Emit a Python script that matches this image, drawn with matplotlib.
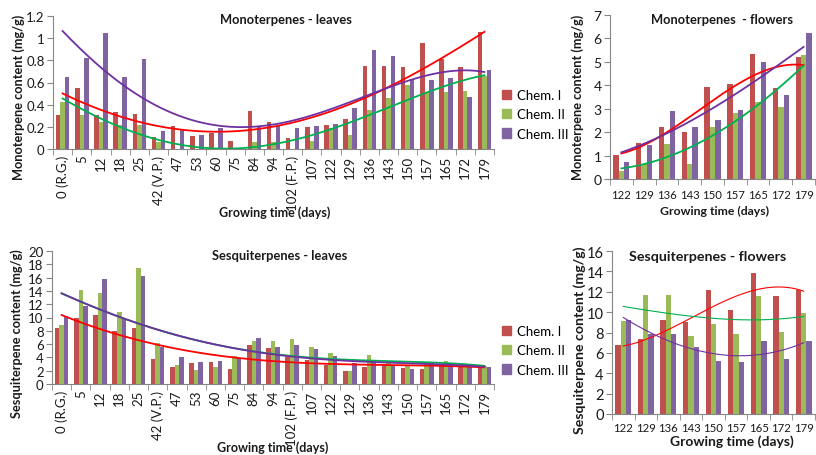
import numpy as np
import matplotlib
matplotlib.use("Agg")
import matplotlib.pyplot as plt
from matplotlib.patches import Patch

plt.rcParams["font.family"] = ["Lato", "DejaVu Sans"]

# leaves, growing time (days)
leaf_days = ["0 (R.G.)", "5", "12", "18", "25", "42 (V.P.)", "47", "53", "60", "75",
             "84", "94", "102 (F.P.)", "107", "122", "129", "136", "143", "150",
             "157", "165", "172", "179"]
mono_leaf_1 = [0.31, 0.55, 0.31, 0.33, 0.32, 0.11, 0.21, 0.12, 0.14, 0.07, 0.34, 0.24,
               0.10, 0.20, 0.22, 0.27, 0.75, 0.75, 0.74, 0.96, 0.81, 0.74, 1.06]
mono_leaf_2 = [0.42, 0.31, 0.24, 0.22, 0.22, 0.06, 0.0, 0.0, 0.0, 0.0, 0.06, 0.06,
               0.0, 0.07, 0.19, 0.13, 0.35, 0.46, 0.58, 0.51, 0.51, 0.52, 0.66]
mono_leaf_3 = [0.65, 0.82, 1.05, 0.65, 0.81, 0.16, 0.17, 0.13, 0.19, 0.0, 0.21, 0.21,
               0.19, 0.21, 0.23, 0.37, 0.89, 0.84, 0.63, 0.62, 0.64, 0.47, 0.71]

sesq_leaf_1 = [8.4, 9.85, 10.4, 7.9, 8.4, 3.7, 2.5, 3.2, 3.3, 2.3, 5.9, 5.4,
               4.1, 3.6, 2.8, 2.0, 2.5, 2.8, 2.4, 2.2, 2.7, 2.7, 2.6]
sesq_leaf_2 = [8.8, 14.2, 13.7, 10.9, 17.4, 6.2, 2.8, 2.1, 2.6, 4.2, 6.5, 6.5,
               6.7, 5.5, 4.6, 2.0, 4.3, 3.5, 2.9, 3.0, 3.5, 2.8, 2.7]
sesq_leaf_3 = [10.3, 11.7, 15.8, 9.75, 16.2, 5.5, 4.1, 3.3, 3.4, 3.9, 6.9, 5.5,
               5.9, 5.2, 4.2, 3.2, 3.5, 2.7, 2.2, 3.3, 3.0, 2.7, 2.5]

# trendline readings for the leaf charts, every second category (0, 2, ..., 22)
mono_leaf_trend_1 = [0.496, 0.36, 0.255, 0.165, 0.15, 0.175, 0.24, 0.36, 0.466, 0.647, 0.84, 1.06]
mono_leaf_trend_2 = [0.46, 0.27, 0.126, 0.045, 0.015, 0.024, 0.075, 0.17, 0.30, 0.45, 0.58, 0.66]
mono_leaf_trend_3 = [1.045, 0.78, 0.475, 0.27, 0.205, 0.215, 0.27, 0.37, 0.475, 0.617, 0.69, 0.70]

sesq_leaf_trend_1 = [10.3, 8.4, 6.6, 5.3, 4.15, 3.66, 3.36, 3.1, 2.9, 2.75, 2.65, 2.55]
sesq_leaf_trend_2 = [13.5, 11.5, 9.0, 7.3, 5.75, 4.9, 4.35, 3.85, 3.55, 3.3, 3.05, 2.8]
sesq_leaf_trend_3 = [13.5, 11.5, 9.0, 7.3, 5.75, 4.86, 4.26, 3.76, 3.3, 3.05, 2.85, 2.65]

# flowers
flower_days = ["122", "129", "136", "143", "150", "157", "165", "172", "179"]
mono_flower_1 = [1.03, 1.52, 2.2, 2.02, 3.93, 4.05, 5.33, 3.88, 5.2]
mono_flower_2 = [0.35, 0.65, 1.5, 0.62, 2.22, 2.8, 3.27, 3.08, 5.3]
mono_flower_3 = [0.72, 1.47, 2.9, 2.2, 2.52, 2.95, 5.0, 3.6, 6.22]

sesq_flower_1 = [6.8, 7.35, 9.2, 9.0, 12.2, 10.2, 13.8, 11.6, 12.2]
sesq_flower_2 = [9.1, 11.7, 11.7, 7.7, 8.85, 7.9, 11.6, 8.05, 9.9]
sesq_flower_3 = [9.25, 7.9, 7.9, 6.55, 5.25, 5.1, 7.2, 5.35, 7.2]

mono_flower_trend_1 = [1.07, 1.49, 1.99, 2.65, 3.34, 3.95, 4.52, 4.86, 4.84]
mono_flower_trend_2 = [0.455, 0.64, 0.92, 1.35, 1.85, 2.49, 3.13, 3.98, 4.84]
mono_flower_trend_3 = [1.14, 1.49, 1.99, 2.42, 3.06, 3.56, 4.27, 4.98, 5.62]

sesq_flower_trend_1 = [6.7, 7.3, 8.2, 9.45, 10.65, 11.6, 12.2, 12.4, 12.1]
sesq_flower_trend_2 = [10.55, 10.2, 9.9, 9.57, 9.4, 9.25, 9.25, 9.35, 9.57]
sesq_flower_trend_3 = [9.4, 8.36, 7.15, 6.4, 5.84, 5.74, 5.84, 6.3, 6.95]

series_names = ["Chem. I", "Chem. II", "Chem. III"]
bar_colors = ["#C0504D", "#9BBB59", "#8064A2"]
trend_colors = ["#FF0000", "#00B050", "#7030A0"]
axis_gray = "#868686"
text_col = "#1a1a1a"


def draw_panel(ax, labels, series, trends, step, deg, ymax, ystep, rotate,
               lw=1.3, tick_fs=9.5, ytick_fs=9.5, xpad=4):
    n = len(labels)
    x = np.arange(n)
    w = 0.235
    for k, vals in enumerate(series):
        ax.bar(x + (k - 1) * w, vals, width=w, color=bar_colors[k], zorder=2)
    # trendlines: smooth polynomial through the values
    tx = np.arange(0, n, step)
    xs = np.linspace(0, n - 1, 200)
    for k, tv in enumerate(trends):
        coef = np.polyfit(tx, tv, deg)
        ax.plot(xs, np.polyval(coef, xs), color=trend_colors[k], lw=lw, zorder=3)

    ax.set_xlim(-0.5, n - 0.5)
    ax.set_ylim(0, ymax)
    ax.set_yticks(np.arange(0, ymax + ystep / 2, ystep))
    ax.set_xticks(x)
    ax.set_xticks(np.arange(-0.5, n, 1.0), minor=True)
    ax.set_xticklabels(labels, rotation=90 if rotate else 0, fontsize=tick_fs, color=text_col)
    ax.tick_params(axis="x", which="major", length=0, pad=xpad)
    ax.tick_params(axis="x", which="minor", length=4, color=axis_gray)
    ax.tick_params(axis="y", length=4, color=axis_gray, labelsize=ytick_fs, labelcolor=text_col, pad=2)
    for s in ["top", "right"]:
        ax.spines[s].set_visible(False)
    for s in ["left", "bottom"]:
        ax.spines[s].set_color(axis_gray)
        ax.spines[s].set_linewidth(0.8)


def main():
    fig = plt.figure(figsize=(8.16, 4.56), dpi=100)
    W, H = 816, 456

    def box(left, top, right, bottom):
        return [left / W, 1 - bottom / H, (right - left) / W, (bottom - top) / H]

    ax1 = fig.add_axes(box(53, 17, 494, 150))
    draw_panel(ax1, leaf_days, [mono_leaf_1, mono_leaf_2, mono_leaf_3],
               [mono_leaf_trend_1, mono_leaf_trend_2, mono_leaf_trend_3], 2, 4, 1.2, 0.2, True)
    ax1.set_yticklabels(["0", "0.2", "0.4", "0.6", "0.8", "1", "1.2"])

    ax2 = fig.add_axes(box(610, 16, 815, 180))
    draw_panel(ax2, flower_days, [mono_flower_1, mono_flower_2, mono_flower_3],
               [mono_flower_trend_1, mono_flower_trend_2, mono_flower_trend_3], 1, 3, 7, 1, False,
               tick_fs=8.2, ytick_fs=10, xpad=7)

    ax3 = fig.add_axes(box(52, 252, 494, 385))
    draw_panel(ax3, leaf_days, [sesq_leaf_1, sesq_leaf_2, sesq_leaf_3],
               [sesq_leaf_trend_1, sesq_leaf_trend_2, sesq_leaf_trend_3], 2, 4, 20, 2, True)

    ax4 = fig.add_axes(box(612, 252, 815, 415))
    draw_panel(ax4, flower_days, [sesq_flower_1, sesq_flower_2, sesq_flower_3],
               [sesq_flower_trend_1, sesq_flower_trend_2, sesq_flower_trend_3], 1, 3, 16, 2, False,
               lw=0.8, tick_fs=8.2, ytick_fs=10.5, xpad=6)

    def ftext(px, py, s, fs, **kw):
        fig.text(px / W, 1 - py / H, s, color=text_col, fontweight="bold", fontsize=fs,
                 ha="center", va="center", **kw)

    ftext(286, 20, "Monoterpenes - leaves", 9.3)
    ftext(722, 20, "Monoterpenes  - flowers", 9.3)
    ftext(280, 256, "Sesquiterpenes - leaves", 9.3)
    ftext(708, 257, "Sesquiterpenes - flowers", 10.3)

    ftext(275, 213, "Growing time (days)", 9)
    ftext(715, 211, "Growing time (days)", 8.8)
    ftext(273, 448, "Growing time (days)", 9)
    ftext(732, 442, "Growing time (days)", 10)

    ftext(19, 97, "Monoterpene content (mg/g)", 9.2, rotation=90)
    ftext(578, 97, "Monoterpene content (mg/g)", 9.2, rotation=90)
    ftext(17, 334, "Sesquiterpene content (mg/g)", 9.2, rotation=90)
    ftext(580, 340, "Sesquiterpene content (mg/g)", 10.2, rotation=90)

    handles = [Patch(color=c) for c in bar_colors]
    for top in (90, 326):
        fig.legend(handles, series_names, loc="upper left", bbox_to_anchor=(502 / W, 1 - top / H),
                   frameon=False, fontsize=9.5, handlelength=0.7, handleheight=0.7,
                   handletextpad=0.4, labelspacing=0.55, borderaxespad=0, borderpad=0)

    fig.savefig("out.png", dpi=100)


if __name__ == "__main__":
    main()
